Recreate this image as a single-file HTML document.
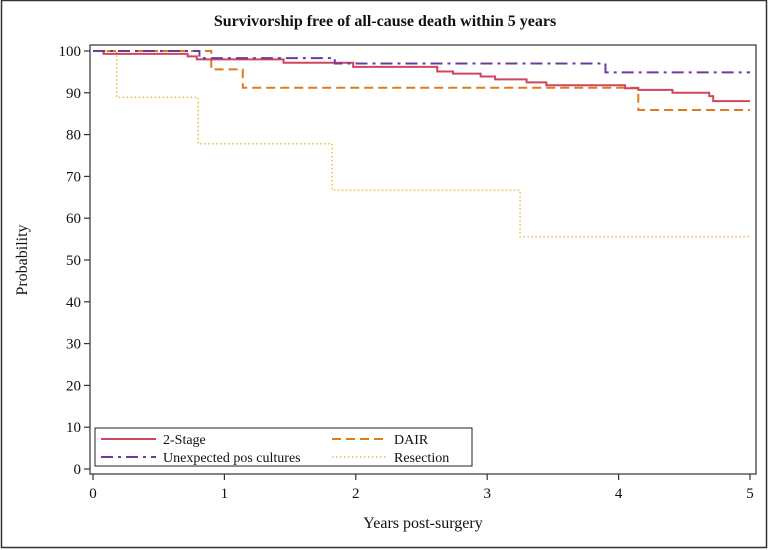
<!DOCTYPE html>
<html><head><meta charset="utf-8"><style>
body{margin:0;background:#fff;}
svg{display:block;font-family:"Liberation Serif",serif;}
</style></head><body>
<svg width="769" height="550">
<rect x="1.5" y="0.5" width="765" height="547" fill="#fff" stroke="#333" stroke-width="1.5"/>
<text x="385" y="26" text-anchor="middle" font-size="16" font-weight="bold" fill="#111">Survivorship free of all-cause death within 5 years</text>
<rect x="90" y="45" width="666" height="429" fill="none" stroke="#333" stroke-width="1.2"/>
<g id="yaxis"></g>
<g id="xaxis"></g>
<text x="27" y="260" text-anchor="middle" font-size="16" fill="#111" transform="rotate(-90 27 260)">Probability</text>
<text x="423" y="528" text-anchor="middle" font-size="16" fill="#111">Years post-surgery</text>
<g id="series"></g>
<g>
<rect x="95" y="428" width="377" height="38" fill="#fff" stroke="#222" stroke-width="1"/>
<line x1="101" y1="439" x2="156" y2="439" stroke="#d0455e" stroke-width="2"/>
<text x="163" y="444" font-size="14" fill="#111">2-Stage</text>
<line x1="101" y1="457" x2="156" y2="457" stroke="#6a3d9a" stroke-width="2" stroke-dasharray="12,5,3,5"/>
<text x="163" y="462" font-size="14" fill="#111">Unexpected pos cultures</text>
<line x1="332" y1="439" x2="387" y2="439" stroke="#e07b1c" stroke-width="2" stroke-dasharray="9,5"/>
<text x="394" y="444" font-size="14" fill="#111">DAIR</text>
<line x1="332" y1="457" x2="387" y2="457" stroke="#e8c040" stroke-width="1.5" stroke-dasharray="1.5,2.5"/>
<text x="394" y="462" font-size="14" fill="#111">Resection</text>
</g>
</svg>
<script>
const yTicks=[0,10,20,30,40,50,60,70,80,90,100];
const xTicks=[0,1,2,3,4,5];
const twoStageT=[0,0.08,0.72,0.79,1.45,1.98,2.62,2.74,2.95,3.06,3.30,3.45,4.05,4.15,4.41,4.69,4.72];
const twoStageS=[100,99.3,98.7,98.0,97.2,96.2,95.1,94.6,93.9,93.2,92.5,91.8,91.1,90.7,90.0,89.2,88.0];
const unexpT=[0,0.81,1.84,3.90];
const unexpS=[100,98.3,97.0,94.9];
const dairT=[0,0.90,1.14,4.15];
const dairS=[100,95.6,91.2,85.9];
const resecT=[0,0.18,0.80,1.82,3.25];
const resecS=[100,88.9,77.8,66.7,55.6];
const xMax=5;
const NS="http://www.w3.org/2000/svg";
const X=v=>93+v*131.4, Y=v=>469-v*4.18;
function mk(tag,attrs,parent){const e=document.createElementNS(NS,tag);for(const k in attrs)e.setAttribute(k,attrs[k]);parent.appendChild(e);return e;}
const ya=document.getElementById('yaxis'), xa=document.getElementById('xaxis'), sg=document.getElementById('series');
yTicks.forEach(t=>{
 const l=mk('line',{x1:84,x2:90,y1:Y(t),y2:Y(t),stroke:'#333','stroke-width':1.2},ya);
 
 
 const tx=mk('text',{x:81,y:Y(t)+5,'text-anchor':'end','font-size':15,fill:'#111'},ya);
 tx.textContent=t;
 
 
});
xTicks.forEach(t=>{
 const l=mk('line',{x1:X(t),x2:X(t),y1:474,y2:480,stroke:'#333','stroke-width':1.2},xa);
 
 
 const tx=mk('text',{x:X(t),y:498,'text-anchor':'middle','font-size':15,fill:'#111'},xa);
 tx.textContent=t;
 
 
});
function step(T,S,color,dash,w,name){
 let d='M'+X(T[0])+','+Y(S[0]);
 for(let i=1;i<T.length;i++){d+=' H'+X(T[i])+' V'+Y(S[i]);}
 d+=' H'+X(xMax);
 const p=mk('path',{d:d,fill:'none',stroke:color,'stroke-width':w,'stroke-dasharray':dash},sg);
 
 
}
step(resecT,resecS,'#e8c040','1.5,2.5',1.5,'resection-line');
step(dairT,dairS,'#e07b1c','9,5',2,'dair-line');
step(twoStageT,twoStageS,'#d0455e','none',2,'two-stage-line');
step(unexpT,unexpS,'#6a3d9a','12,5,3,5',2,'unexpected-line');
</script>
</body></html>
